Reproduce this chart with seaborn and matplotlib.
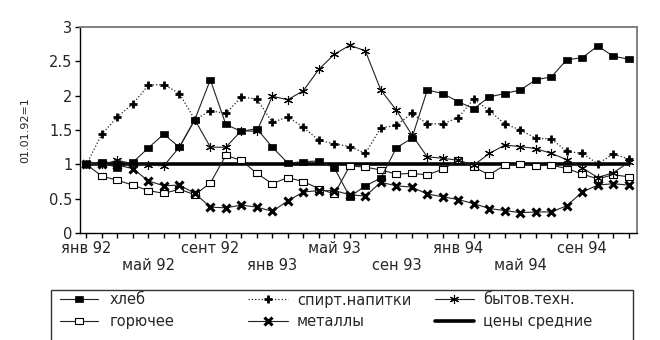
import numpy as np
import pandas as pd
import matplotlib
matplotlib.use("Agg")
import matplotlib.pyplot as plt
from matplotlib.path import Path
from matplotlib.lines import Line2D
from matplotlib.patches import Rectangle
import seaborn as sns

# ---- data (index 01.01.92 = 1), monthly Jan 92 .. Dec 94 ----
bread = [1.00, 1.03, 0.95, 1.03, 1.24, 1.44, 1.25, 1.65, 2.23, 1.58, 1.48, 1.52,
         1.25, 1.02, 1.04, 1.05, 0.95, 0.53, 0.69, 0.80, 1.24, 1.38, 2.08, 2.03,
         1.91, 1.81, 1.98, 2.03, 2.08, 2.23, 2.27, 2.52, 2.55, 2.72, 2.57, 2.53]
spirits = [1.00, 1.44, 1.69, 1.88, 2.15, 2.16, 2.03, 1.65, 1.78, 1.74, 1.98, 1.95,
           1.61, 1.69, 1.54, 1.35, 1.30, 1.26, 1.16, 1.53, 1.57, 1.74, 1.59, 1.59,
           1.68, 1.95, 1.78, 1.59, 1.50, 1.38, 1.37, 1.19, 1.16, 1.01, 1.15, 1.08]
appliances = [1.00, 1.00, 1.06, 1.01, 0.99, 0.98, 1.25, 1.65, 1.25, 1.25, 1.49, 1.48,
              1.99, 1.94, 2.07, 2.38, 2.60, 2.73, 2.65, 2.08, 1.79, 1.43, 1.11, 1.09,
              1.06, 0.99, 1.16, 1.28, 1.26, 1.23, 1.16, 1.07, 0.95, 0.81, 0.88, 1.03]
fuel = [1.00, 0.83, 0.77, 0.70, 0.62, 0.58, 0.64, 0.56, 0.73, 1.13, 1.06, 0.87,
        0.72, 0.81, 0.75, 0.65, 0.57, 0.98, 0.96, 0.92, 0.86, 0.87, 0.85, 0.93,
        1.06, 0.96, 0.85, 0.99, 1.00, 0.98, 0.99, 0.94, 0.86, 0.79, 0.85, 0.82]
metals = [1.00, 1.00, 0.99, 0.94, 0.76, 0.69, 0.70, 0.58, 0.38, 0.37, 0.41, 0.38,
          0.32, 0.47, 0.60, 0.62, 0.62, 0.56, 0.54, 0.74, 0.69, 0.67, 0.57, 0.53,
          0.49, 0.43, 0.36, 0.33, 0.30, 0.31, 0.31, 0.40, 0.60, 0.70, 0.72, 0.70]
avg_prices = [1.0] * 36

series_names = ["хлеб", "спирт.напитки", "бытов.техн.", "горючее", "металлы", "цены средние"]
tick_label_pos = [0, 4, 8, 12, 16, 20, 24, 28, 32]
tick_label_text = ["янв 92", "май 92", "сент 92", "янв 93", "май 93",
                   "сен 93", "янв 94", "май 94", "сен 94"]
y_ticks = [0, 0.5, 1, 1.5, 2, 2.5, 3]
y_tick_text = ["0", "0.5", "1", "1.5", "2", "2.5", "3"]
y_title = "01.01.92=1"

# ---- style ----
sns.set_theme(style="white")
plt.rcParams["font.family"] = ["DejaVu Sans"]
FS = 10.5

W, H = 660, 340
fig = plt.figure(figsize=(W / 100, H / 100), dpi=100)
ax = fig.add_axes([80 / W, 1 - 233.3 / H, (637 - 80) / W, (233.3 - 26.7) / H])

x = np.arange(len(bread))
df = pd.DataFrame({"x": x, "bread": bread, "spirits": spirits, "appl": appliances,
                   "fuel": fuel, "metals": metals, "avg": avg_prices})

rect = Path([(-1.3, -1), (1.3, -1), (1.3, 1), (-1.3, 1), (-1.3, -1)],
            [Path.MOVETO, Path.LINETO, Path.LINETO, Path.LINETO, Path.CLOSEPOLY])
LC = "#222222"

styles = {
    "avg": dict(color="black", lw=2.6, marker=None, zorder=2),
    "fuel": dict(color=LC, lw=0.8, marker=rect, ms=5.6, mfc="white", mec="black",
                 mew=0.8, zorder=3),
    "metals": dict(color=LC, lw=0.8, marker="x", ms=6.0, mec="black", mew=2.2, zorder=3),
    "appl": dict(color=LC, lw=0.8, marker=(6, 2, 0), ms=6.5, mec="black", mew=0.8, zorder=3),
    "spirits": dict(color=LC, lw=0.9, ls=":", marker="+", ms=5.5, mec="black", mew=2.0,
                    zorder=3),
    "bread": dict(color=LC, lw=0.8, marker=rect, ms=6.2, mfc="black", mec="black",
                  mew=0.5, zorder=4),
}
for col in ["avg", "fuel", "metals", "appl", "spirits", "bread"]:
    st = dict(styles[col])
    z = st.pop("zorder")
    sns.lineplot(data=df, x="x", y=col, ax=ax, legend=False, **st)
    ax.lines[-1].set_zorder(z)

ax.set_xlim(-0.41, 35.53)
ax.set_ylim(0, 3)
ax.set_xticks(x)
labels = [""] * len(x)
for i, (p, t) in enumerate(zip(tick_label_pos, tick_label_text)):
    labels[p] = ("\n" + t) if i % 2 == 1 else t
ax.set_xticklabels(labels, fontsize=FS, linespacing=1.15)
ax.set_yticks(y_ticks)
ax.set_yticklabels(y_tick_text, fontsize=FS)
ax.tick_params(axis="x", direction="out", length=3.6, width=1, pad=2.2, color="black",
               bottom=True)
ax.tick_params(axis="y", direction="out", length=3.6, width=1, pad=2, color="black",
               left=True)
ax.set_xlabel("")
ax.set_ylabel(y_title, fontsize=8)
ax.yaxis.set_label_coords((30 - 80) / 557, 0.5)

for s in ["left", "bottom"]:
    ax.spines[s].set_color("black")
    ax.spines[s].set_linewidth(1.0)
for s in ["top", "right"]:
    ax.spines[s].set_color("#808080")
    ax.spines[s].set_linewidth(1.4)
ax.grid(False)


def handle(col):
    st = dict(styles[col])
    st.pop("zorder")
    return Line2D([], [], **st)


cols = [
    (60, [("bread", series_names[0]), ("fuel", series_names[3])], 2.6, 0.8),
    (248, [("spirits", series_names[1]), ("metals", series_names[4])], 2.75, 0.6),
    (435, [("appl", series_names[2]), ("avg", series_names[5])], 2.65, 0.65),
]
for x0, items, hl, hp in cols:
    fig.legend([handle(c) for c, _ in items], [n for _, n in items],
               loc="upper left", bbox_to_anchor=(x0 / W, 1 - 292.5 / H),
               frameon=False, fontsize=FS, handlelength=hl, handletextpad=hp,
               borderpad=0, borderaxespad=0, labelspacing=0.45)

fig.add_artist(Rectangle((50.7 / W, -0.2), (633 - 50.7) / W, (340 - 289.7) / H + 0.2,
                         transform=fig.transFigure, fill=False, lw=1.0,
                         ec="#333333"))

fig.savefig("out.png", dpi=100)
